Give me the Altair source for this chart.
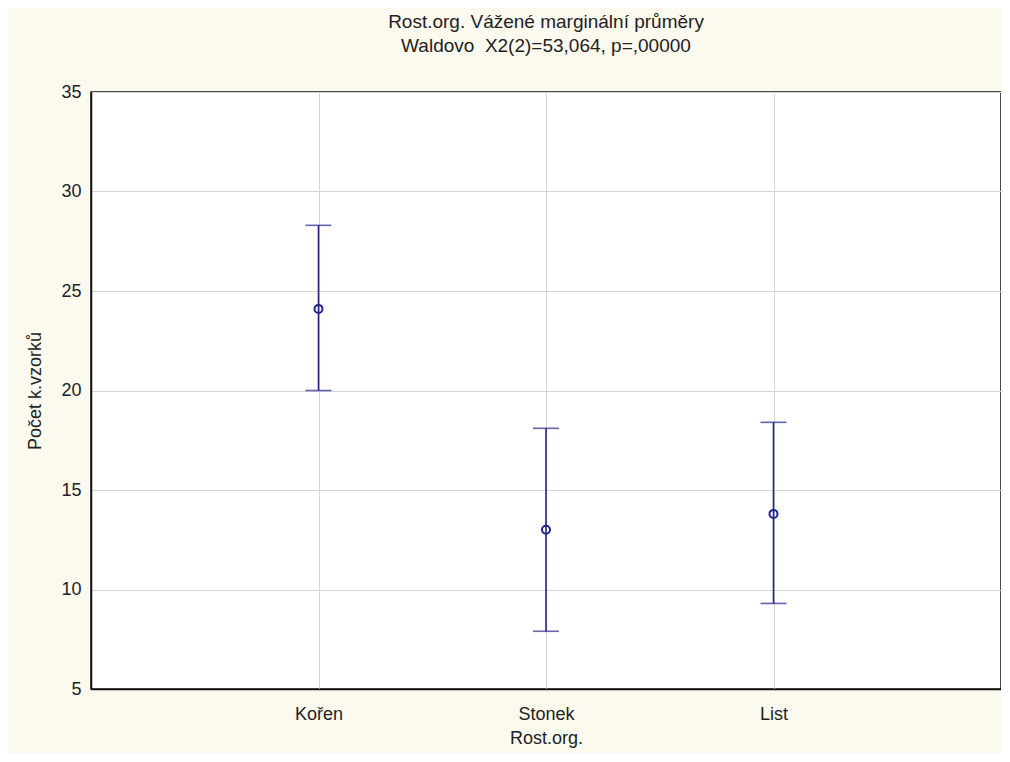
import altair as alt
import pandas as pd

categories = ["Kořen", "Stonek", "List"]
positions = [1, 2, 3]
means = [24.1, 13.0, 13.8]
lower = [20.0, 7.9, 9.3]
upper = [28.3, 18.1, 18.4]
y_ticks = [5, 10, 15, 20, 25, 30, 35]

df = pd.DataFrame({"cat": categories, "pos": positions, "mean": means, "lo": lower, "hi": upper})

navy = "#22228c"
font = "Liberation Sans"

x_enc = alt.X("pos:Q", scale=alt.Scale(domain=[0, 4], nice=False, zero=False),
              axis=alt.Axis(values=positions, title="Rost.org.",
                            labelExpr="datum.value == 1 ? 'Kořen' : datum.value == 2 ? 'Stonek' : 'List'",
                            labelFontSize=18, titleFontSize=18, labelPadding=16, titlePadding=6,
                            tickSize=0, grid=True))

y_scale = alt.Scale(domain=[5, 35], nice=False, zero=False)
y_axis = alt.Axis(values=y_ticks, title="Počet k.vzorků", labelFontSize=18, titleFontSize=18,
                  labelPadding=10, titlePadding=16, tickSize=0, grid=True)

base = alt.Chart(df)

rule = base.mark_rule(color=navy, strokeWidth=1.6).encode(
    x=x_enc,
    y=alt.Y("lo:Q", scale=y_scale, axis=y_axis),
    y2="hi:Q",
)
cap_lo = base.mark_tick(color=navy, size=26, thickness=1.6, orient="horizontal").encode(
    x="pos:Q", y=alt.Y("lo:Q", scale=y_scale))
cap_hi = base.mark_tick(color=navy, size=26, thickness=1.6, orient="horizontal").encode(
    x="pos:Q", y=alt.Y("hi:Q", scale=y_scale))
pts = base.mark_point(color=navy, filled=False, size=64, strokeWidth=2, opacity=1).encode(
    x="pos:Q", y=alt.Y("mean:Q", scale=y_scale))

chart = alt.layer(rule, cap_lo, cap_hi, pts).properties(
    width=910, height=597,
    title=alt.TitleParams(["Rost.org. Vážené marginální průměry", "Waldovo\u00a0 X2(2)=53,064, p=,00000"],
                          anchor="middle", fontSize=19, fontWeight="normal", font=font,
                          color="#222222", lineHeight=24, offset=27),
    autosize=alt.AutoSizeParams(type="none"),
    padding={"left": 83, "top": 84, "right": 0, "bottom": 64},
    background="#fcf9ef",
).configure_view(
    fill="white", stroke="#111111", strokeWidth=1.5,
).configure_axis(
    labelFont=font, titleFont=font, labelColor="#222222", titleColor="#222222",
    titleFontWeight="normal", gridColor="#d4d4d4", gridWidth=1,
    domainColor="#111111", domainWidth=1.5,
)

chart.save("out.html", embed_options={"renderer": "svg", "actions": False})
